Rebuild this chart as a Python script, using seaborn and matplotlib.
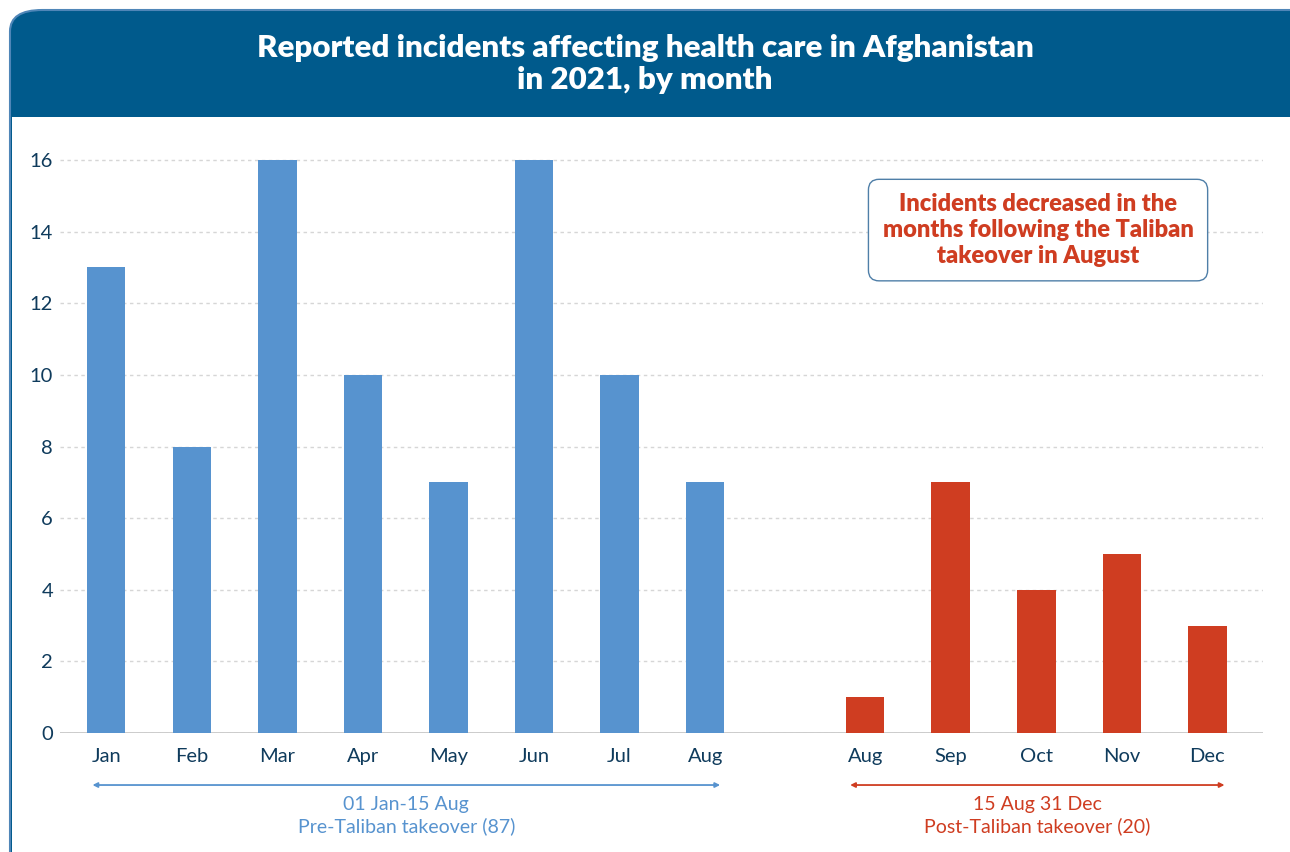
import numpy as np
import pandas as pd
import seaborn as sns
import matplotlib.pyplot as plt
from matplotlib.patches import FancyBboxPatch, Rectangle

# data
pre_months = ['Jan', 'Feb', 'Mar', 'Apr', 'May', 'Jun', 'Jul', 'Aug']
pre_counts = [13, 8, 16, 10, 7, 16, 10, 7]
post_months = ['Aug', 'Sep', 'Oct', 'Nov', 'Dec']
post_counts = [1, 7, 4, 5, 3]

pre_label = '01 Jan-15 Aug\nPre-Taliban takeover (87)'
post_label = '15 Aug 31 Dec\nPost-Taliban takeover (20)'
callout = 'Incidents decreased in the\nmonths following the Taliban\ntakeover in August'
title = 'Reported incidents affecting health care in Afghanistan\nin 2021, by month'

blue = '#5793cf'
red = '#cf3d21'
navy = '#0f3b5c'
header = '#005a8c'

sns.set_style('white')
plt.rcParams['font.family'] = ['Lato', 'DejaVu Sans']

# positions: the second group starts after a gap
pre_pos = np.arange(len(pre_counts), dtype=float)
post_pos = np.arange(len(post_counts)) + len(pre_counts) + 0.87

df = pd.DataFrame({
    'pos': np.concatenate([pre_pos, post_pos]),
    'count': pre_counts + post_counts,
    'period': ['pre'] * len(pre_counts) + ['post'] * len(post_counts),
})

W, H = 1290, 852
fig = plt.figure(figsize=(W / 100, H / 100), dpi=100)

# panel with header band
panel = FancyBboxPatch((10 / W, -0.05), 1.2, (H - 10) / H + 0.05,
                       boxstyle='round,pad=0,rounding_size=0.025',
                       transform=fig.transFigure, facecolor=header,
                       edgecolor='#4f86b8', linewidth=1.5, zorder=-2)
fig.patches.append(panel)
fig.patches.append(Rectangle((11.5 / W, -0.05), 1.2, (H - 117) / H + 0.05,
                             transform=fig.transFigure, facecolor='white',
                             edgecolor='none', zorder=-1))
fig.text(0.5, (H - 64) / H, title, ha='center', va='center', color='white',
         fontsize=22.5, fontweight='heavy', linespacing=1.2)

ax = fig.add_axes([60 / W, (H - 733) / H, 1203 / W, 598 / H])
ax.set_facecolor('none')
ax.set_zorder(2)

sns.barplot(data=df, x='pos', y='count', hue='period', native_scale=True,
            palette={'pre': blue, 'post': red}, width=0.45, dodge=False,
            errorbar=None, legend=False, saturation=1, linewidth=0,
            ax=ax, zorder=3)

ax.set_xlim(-0.54, post_pos[-1] + 0.65)
ax.set_ylim(0, 16.7)
ax.set_yticks(range(0, 17, 2))
ax.set_xticks(np.concatenate([pre_pos, post_pos]))
ax.set_xticklabels(pre_months + post_months)
ax.tick_params(axis='both', length=0, labelsize=14.5, colors=navy)
ax.tick_params(axis='x', pad=11)
ax.tick_params(axis='y', pad=5)
ax.set_xlabel('')
ax.set_ylabel('')
ax.yaxis.grid(True, linestyle=(0, (2.5, 2.5)), color='#d6d6d6', lw=1)
ax.set_axisbelow(True)
sns.despine(ax=ax, left=True, bottom=True)
ax.axhline(0, color='#c8c8c8', lw=1.3, zorder=2)

# period arrows and labels below the axis
tr = ax.get_xaxis_transform()
for x0, x1, txt, col in [(pre_pos[0] - 0.16, pre_pos[-1] + 0.175, pre_label, blue),
                         (post_pos[0] - 0.175, post_pos[-1] + 0.2, post_label, red)]:
    ax.annotate('', xy=(x0, -0.087), xytext=(x1, -0.087), xycoords=tr,
                textcoords=tr, annotation_clip=False,
                arrowprops=dict(arrowstyle='<|-|>', color=col, lw=1.3,
                                mutation_scale=7, shrinkA=0, shrinkB=0))
    ax.text((x0 + x1) / 2, -0.138, txt, transform=tr, ha='center', va='center',
            color=col, fontsize=14, linespacing=1.3)

# callout box
ax.text(0.813, 0.841, callout, transform=ax.transAxes, ha='center', va='center',
        color=red, fontsize=17, fontweight='heavy', linespacing=1.2,
        bbox=dict(boxstyle='round,pad=0.6,rounding_size=0.45', facecolor='white',
                  edgecolor='#4f7fa8', lw=1), zorder=5)

fig.savefig('out.png', dpi=100)
